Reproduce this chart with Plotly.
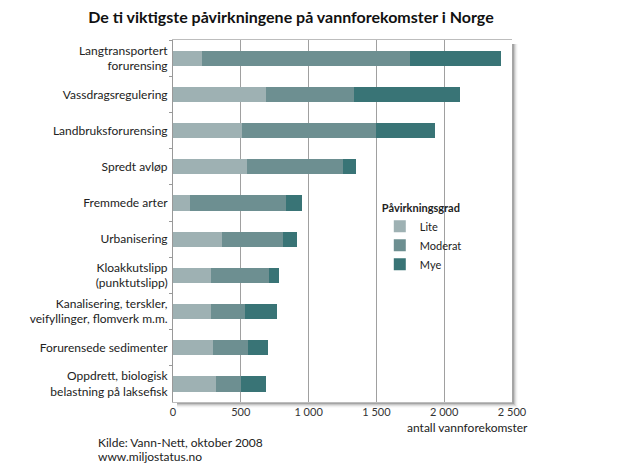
import plotly.graph_objects as go

categories = [
    "Langtransportert<br>forurensing",
    "Vassdragsregulering",
    "Landbruksforurensing",
    "Spredt avløp",
    "Fremmede arter",
    "Urbanisering",
    "Kloakkutslipp<br>(punktutslipp)",
    "Kanalisering, terskler,<br>veifyllinger, flomverk m.m.",
    "Forurensede sedimenter",
    "Oppdrett, biologisk<br>belastning på laksefisk",
]
lite = [217, 686, 507, 546, 123, 359, 280, 280, 295, 317]
moderat = [1529, 647, 988, 708, 708, 452, 428, 249, 256, 182]
mye = [671, 784, 440, 93, 118, 106, 71, 238, 152, 184]
series_names = ["Lite", "Moderat", "Mye"]
colors = ["#9eb1b3", "#6d8f91", "#397476"]
x_ticks = [0, 500, 1000, 1500, 2000, 2500]
x_ticktext = ["0", "500", "1 000", "1 500", "2 000", "2 500"]
source_lines = ["Kilde: Vann-Nett, oktober 2008", "www.miljostatus.no"]

FONT = "Lato"
fig = go.Figure()
for name, vals, col in zip(series_names, [lite, moderat, mye], colors):
    fig.add_trace(go.Bar(
        y=categories, x=vals, name=name, orientation="h",
        marker=dict(color=col, line=dict(width=0)),
    ))

pw, ph = 339.0, 362.0
annotations = [
    dict(text="antall vannforekomster", xref="paper", yref="paper",
         x=1.053, y=-0.045, xanchor="right", yanchor="top", showarrow=False,
         font=dict(size=12, color="#222")),
]
for i, line in enumerate(source_lines):
    annotations.append(dict(text=line, xref="paper", yref="paper",
                            x=-0.228, y=-(40 + 14.5 * i) / ph, xanchor="left",
                            yanchor="middle", showarrow=False,
                            font=dict(size=12, color="#222")))

fig.update_layout(
    barmode="stack",
    bargap=0.58,
    width=619, height=464,
    margin=dict(l=173, r=107, t=40, b=62),
    paper_bgcolor="white",
    plot_bgcolor="white",
    font=dict(family=FONT, size=12, color="#222"),
    title=dict(text="<b>De ti viktigste påvirkningene på vannforekomster i Norge</b>",
               x=0.47, xanchor="center", y=0.962, yanchor="middle",
               font=dict(family=FONT, size=16, color="#111")),
    xaxis=dict(range=[0, 2500], tickvals=x_ticks, ticktext=x_ticktext,
               showgrid=True, gridcolor="#a0a0a0", gridwidth=1,
               zeroline=False, showline=True, linecolor="#bdbdbd", mirror=True,
               ticks="", tickfont=dict(size=11, color="#333"), fixedrange=True),
    yaxis=dict(autorange="reversed", showgrid=False, showline=True, linecolor="#999",
               ticks="outside", ticklen=3, tickcolor="#999", tickson="boundaries",
               tickfont=dict(size=12, color="#222"), ticklabelstandoff=2),
    legend=dict(x=0.61, y=0.565, xanchor="left", yanchor="top",
                title=dict(text="<b>Påvirkningsgrad</b>", font=dict(size=11)),
                font=dict(size=11), traceorder="normal",
                bgcolor="rgba(0,0,0,0)", itemwidth=30, tracegroupgap=0,
                borderwidth=0),
    annotations=annotations,
)
# soft shadow on right and bottom of plot frame
for i, op in enumerate([0.16, 0.11, 0.07, 0.04, 0.02]):
    d = i + 1
    fig.add_shape(type="rect", xref="paper", yref="paper", layer="below",
                  x0=1.0, x1=1.0 + (d + 1) / pw, y0=-(d + 1) / ph, y1=1 - 4 / ph,
                  line=dict(width=0), fillcolor=f"rgba(0,0,0,{op})")
    fig.add_shape(type="rect", xref="paper", yref="paper", layer="below",
                  x0=4 / pw, x1=1.0, y0=-(d + 1) / ph, y1=0,
                  line=dict(width=0), fillcolor=f"rgba(0,0,0,{op})")
fig.write_html("out.html", config={"displayModeBar": False},
               post_script="document.body.style.margin='0';document.body.style.overflow='hidden';")
